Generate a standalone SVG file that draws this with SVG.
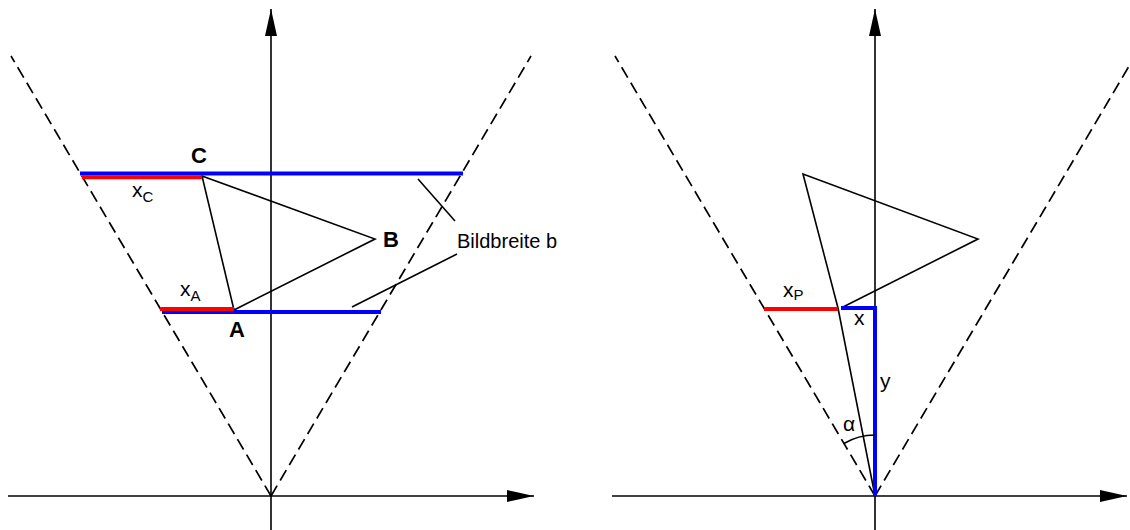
<svg xmlns="http://www.w3.org/2000/svg" width="1130" height="530" viewBox="0 0 1130 530">
<defs>
<marker id="arr" markerUnits="userSpaceOnUse" markerWidth="27" markerHeight="12" refX="27" refY="6" orient="auto">
<path d="M0,0 L27,6 L0,12 z" fill="#000"/>
</marker>
<style>
.ax{stroke:#000;stroke-width:1.6;fill:none;marker-end:url(#arr)}
.ds{stroke:#000;stroke-width:1.7;fill:none;stroke-dasharray:12 6}
.ln{stroke:#000;stroke-width:1.6;fill:none}
.bl{stroke:#0000ff;stroke-width:4;fill:none}
.rd{stroke:#ff0000;stroke-width:4;fill:none}
text{font-family:"Liberation Sans",Arial,sans-serif;fill:#000}
.lb{font-size:22px;font-weight:bold}
.t{font-size:21px}
.s{font-size:15px}
.bb{font-size:20px}
</style>
</defs>
<rect width="1130" height="530" fill="#fff"/>
<g id="connectors">
<line class="ax" x1="271" y1="530" x2="271" y2="9"/>
<line class="ax" x1="8" y1="496" x2="534" y2="496"/>
<line class="ax" x1="875" y1="530" x2="875" y2="9"/>
<line class="ax" x1="612" y1="496" x2="1127" y2="496"/>
<line class="ds" x1="271" y1="496" x2="11" y2="56"/>
<line class="ds" x1="271" y1="496" x2="531" y2="56"/>
<line class="ds" x1="875" y1="496" x2="615" y2="56"/>
<line class="ds" x1="875" y1="496" x2="1135" y2="56"/>
<line class="ln" x1="418" y1="179" x2="455" y2="221"/>
<line class="ln" x1="457" y1="254" x2="352" y2="307"/>
</g>
<g id="left-triangle">
<polygon class="ln" points="202,176 375,239 234,310"/>
</g>
<g id="left-widths">
<line class="bl" x1="80" y1="173.5" x2="463" y2="173.5"/>
<line class="rd" x1="82" y1="177.3" x2="202" y2="177.3"/>
<line class="bl" x1="162" y1="312" x2="381" y2="312"/>
<line class="rd" x1="160" y1="309" x2="234" y2="309"/>
</g>
<g id="left-labels">
<text class="lb" x="199" y="163" text-anchor="middle">C</text>
<text class="lb" x="383" y="247">B</text>
<text class="lb" x="237" y="337" text-anchor="middle">A</text>
<text class="t" x="132" y="197">x<tspan class="s" dy="5">C</tspan></text>
<text class="t" x="180" y="296">x<tspan class="s" dy="5">A</tspan></text>
<text class="bb" x="457" y="248">Bildbreite b</text>
</g>
<g id="right-triangle">
<polyline class="ln" points="843,307 978,239 803,174 838,308 875,496"/>
</g>
<g id="right-measures">
<line class="rd" x1="764" y1="309" x2="838" y2="309"/>
<polyline class="bl" points="841,308 875,308 875,496"/>
<path class="ln" d="M843.9,443.5 A61,61 0 0 1 875,435"/>
</g>
<g id="right-labels">
<text class="t" x="783" y="297">x<tspan class="s" dy="3">P</tspan></text>
<text class="t" x="854" y="325">x</text>
<text class="t" x="880" y="388">y</text>
<text class="t" x="843" y="431">α</text>
</g>
</svg>
